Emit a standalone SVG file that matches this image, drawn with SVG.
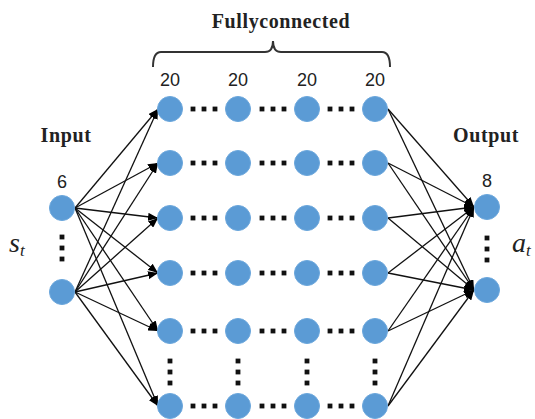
<svg xmlns="http://www.w3.org/2000/svg" width="535" height="419" viewBox="0 0 535 419">
  <style>
    .node { fill: #5b9bd5; stroke: #6aa6dc; stroke-width: 1; }
    .dot { fill: #111; }
    .edge { stroke: #111; stroke-width: 1.3; fill: none; marker-end: url(#arrow); }
    .title { font-family: "Liberation Serif", "Times New Roman", serif; font-weight: bold; font-size: 20px; fill: #222; text-anchor: middle; letter-spacing: 0.6px; }
    .count { font-family: "Liberation Sans", Arial, sans-serif; font-size: 18px; fill: #222; text-anchor: middle; }
    .math { font-family: "Liberation Serif", "Times New Roman", serif; font-style: italic; font-size: 28px; fill: #222; }
  </style>
  <defs>
    <marker id="arrow" markerUnits="userSpaceOnUse" markerWidth="10" markerHeight="8" refX="10" refY="4" orient="auto">
      <path d="M0,0 L10,4 L0,8 z" fill="#000"/>
    </marker>
    <rect id="sq" x="-2.4" y="-2.4" width="4.8" height="4.8" class="dot"/>
  </defs>

  <rect width="535" height="419" fill="#fff"/>

  <!-- heading and brace over the hidden layers -->
  <g id="heading">
    <text class="title" x="281" y="28">Fullyconnected</text>
    <path d="M153,67 Q153,52 161,52 L265,52 Q273,52 273,41 Q273,52 281,52 L382,52 Q390,52 390,67" fill="none" stroke="#333" stroke-width="2"/>
  </g>

  <g id="labels">
    <text class="title" x="66" y="142">Input</text>
    <text class="title" x="486" y="142">Output</text>
    <text class="count" x="170" y="86">20</text>
    <text class="count" x="238" y="86">20</text>
    <text class="count" x="307" y="86">20</text>
    <text class="count" x="375" y="86">20</text>
    <text class="count" x="62" y="188">6</text>
    <text class="count" x="487" y="187">8</text>
    <text class="math" x="9" y="252">s<tspan font-size="17" dy="4">t</tspan></text>
    <text class="math" x="512" y="252">a<tspan font-size="17" dy="4">t</tspan></text>
  </g>

  <!-- connectors: input to first hidden layer, last hidden layer to output -->
  <g id="connectors">
    <line class="edge" x1="75" y1="208" x2="158" y2="109"/>
    <line class="edge" x1="75" y1="208" x2="158" y2="163"/>
    <line class="edge" x1="75" y1="208" x2="158" y2="218"/>
    <line class="edge" x1="75" y1="208" x2="158" y2="273"/>
    <line class="edge" x1="75" y1="208" x2="158" y2="331"/>
    <line class="edge" x1="75" y1="208" x2="158" y2="406"/>
    <line class="edge" x1="75" y1="292" x2="158" y2="109"/>
    <line class="edge" x1="75" y1="292" x2="158" y2="163"/>
    <line class="edge" x1="75" y1="292" x2="158" y2="218"/>
    <line class="edge" x1="75" y1="292" x2="158" y2="273"/>
    <line class="edge" x1="75" y1="292" x2="158" y2="331"/>
    <line class="edge" x1="75" y1="292" x2="158" y2="406"/>

    <line class="edge" x1="388" y1="109" x2="474" y2="207"/>
    <line class="edge" x1="388" y1="163" x2="474" y2="207"/>
    <line class="edge" x1="388" y1="218" x2="474" y2="207"/>
    <line class="edge" x1="388" y1="273" x2="474" y2="207"/>
    <line class="edge" x1="388" y1="331" x2="474" y2="207"/>
    <line class="edge" x1="388" y1="406" x2="474" y2="207"/>
    <line class="edge" x1="388" y1="109" x2="474" y2="290"/>
    <line class="edge" x1="388" y1="163" x2="474" y2="290"/>
    <line class="edge" x1="388" y1="218" x2="474" y2="290"/>
    <line class="edge" x1="388" y1="273" x2="474" y2="290"/>
    <line class="edge" x1="388" y1="331" x2="474" y2="290"/>
    <line class="edge" x1="388" y1="406" x2="474" y2="290"/>
  </g>

  <!-- ellipsis dots -->
  <g id="ellipses">
    <!-- input and output columns -->
    <use href="#sq" x="62" y="237"/><use href="#sq" x="62" y="248"/><use href="#sq" x="62" y="259"/>
    <use href="#sq" x="487" y="238"/><use href="#sq" x="487" y="249"/><use href="#sq" x="487" y="260"/>
    <!-- vertical gaps in hidden columns -->
    <use href="#sq" x="170" y="361"/><use href="#sq" x="170" y="372"/><use href="#sq" x="170" y="383"/>
    <use href="#sq" x="238" y="361"/><use href="#sq" x="238" y="372"/><use href="#sq" x="238" y="383"/>
    <use href="#sq" x="307" y="361"/><use href="#sq" x="307" y="372"/><use href="#sq" x="307" y="383"/>
    <use href="#sq" x="375" y="361"/><use href="#sq" x="375" y="372"/><use href="#sq" x="375" y="383"/>
  </g>
  <g id="row-dots">
    <g id="rd1" transform="translate(0,109)">
      <use href="#sq" x="193" y="0"/><use href="#sq" x="204" y="0"/><use href="#sq" x="215" y="0"/>
      <use href="#sq" x="262" y="0"/><use href="#sq" x="273" y="0"/><use href="#sq" x="284" y="0"/>
      <use href="#sq" x="330" y="0"/><use href="#sq" x="341" y="0"/><use href="#sq" x="352" y="0"/>
    </g>
    <use href="#rd1" y="54"/>
    <use href="#rd1" y="109"/>
    <use href="#rd1" y="164"/>
    <use href="#rd1" y="222"/>
    <use href="#rd1" y="297"/>
  </g>

  <g id="input-layer">
    <circle class="node" cx="62" cy="208" r="12.5"/>
    <circle class="node" cx="62" cy="292" r="12.5"/>
  </g>

  <g id="hidden-1">
    <circle class="node" cx="170" cy="109" r="12.5"/>
    <circle class="node" cx="170" cy="163" r="12.5"/>
    <circle class="node" cx="170" cy="218" r="12.5"/>
    <circle class="node" cx="170" cy="273" r="12.5"/>
    <circle class="node" cx="170" cy="331" r="12.5"/>
    <circle class="node" cx="170" cy="406" r="12.5"/>
  </g>
  <g id="hidden-2">
    <circle class="node" cx="238" cy="109" r="12.5"/>
    <circle class="node" cx="238" cy="163" r="12.5"/>
    <circle class="node" cx="238" cy="218" r="12.5"/>
    <circle class="node" cx="238" cy="273" r="12.5"/>
    <circle class="node" cx="238" cy="331" r="12.5"/>
    <circle class="node" cx="238" cy="406" r="12.5"/>
  </g>
  <g id="hidden-3">
    <circle class="node" cx="307" cy="109" r="12.5"/>
    <circle class="node" cx="307" cy="163" r="12.5"/>
    <circle class="node" cx="307" cy="218" r="12.5"/>
    <circle class="node" cx="307" cy="273" r="12.5"/>
    <circle class="node" cx="307" cy="331" r="12.5"/>
    <circle class="node" cx="307" cy="406" r="12.5"/>
  </g>
  <g id="hidden-4">
    <circle class="node" cx="375" cy="109" r="12.5"/>
    <circle class="node" cx="375" cy="163" r="12.5"/>
    <circle class="node" cx="375" cy="218" r="12.5"/>
    <circle class="node" cx="375" cy="273" r="12.5"/>
    <circle class="node" cx="375" cy="331" r="12.5"/>
    <circle class="node" cx="375" cy="406" r="12.5"/>
  </g>

  <g id="output-layer">
    <circle class="node" cx="487" cy="207" r="12.5"/>
    <circle class="node" cx="487" cy="290" r="12.5"/>
  </g>
</svg>
